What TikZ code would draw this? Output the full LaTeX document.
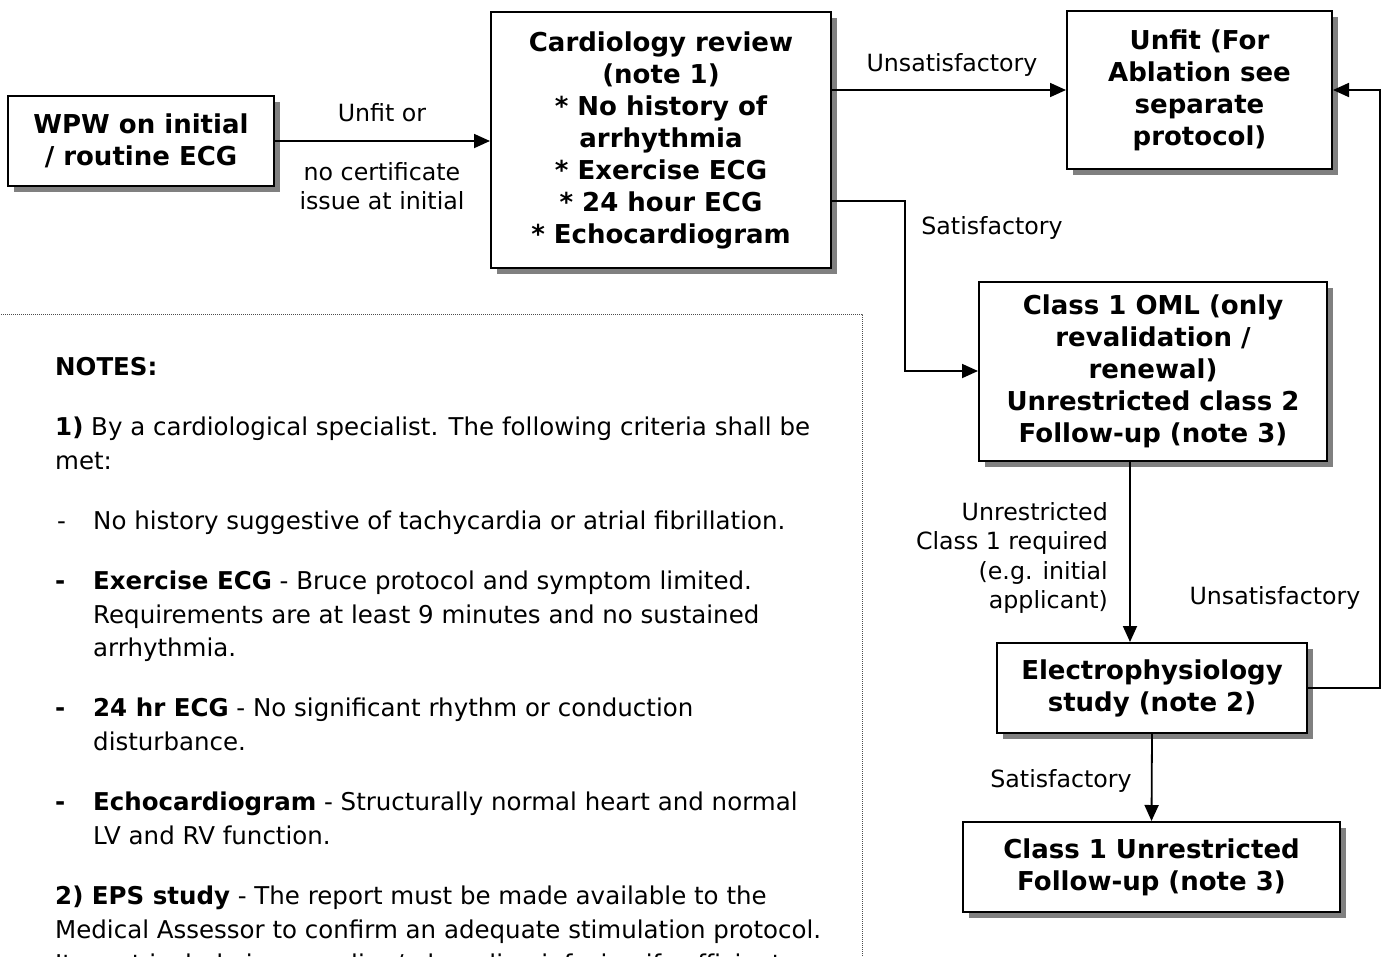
\documentclass[tikz,border=0pt]{standalone}
\usepackage{fontspec}
\setmainfont{DejaVu Sans}
\usetikzlibrary{arrows.meta,shadows}

\tikzset{
  box/.style={draw=black, line width=2pt, fill=white, inner sep=0pt, align=center,
    font=\fontsize{26}{32}\selectfont\bfseries,
    drop shadow={shadow xshift=6pt, shadow yshift=-6pt, fill=black!50, opacity=1}},
  conn/.style={line width=1.8pt, -{Triangle[length=16pt,width=14pt]}},
  lbl/.style={inner sep=0pt, align=center, font=\fontsize{23.7}{29.5}\selectfont},
  note/.style={inner sep=0pt, anchor=mid west, font=\fontsize{24.5}{34}\selectfont},
}

\begin{document}
\begin{tikzpicture}[x=1pt, y=-1pt]
\clip (0,0) rectangle (1386,956);
\fill[white] (0,0) rectangle (1386,956);

% flow chart boxes
\node[box, minimum width=266pt, minimum height=90pt] (wpw) at (141,141)
  {WPW on initial\\/ routine ECG};
\node[box, minimum width=340pt, minimum height=256pt] (cardio) at (661,140)
  {Cardiology review\\(note 1)\\* No history of\\arrhythmia\\* Exercise ECG\\* 24 hour ECG\\* Echocardiogram};
\node[box, minimum width=265pt, minimum height=158pt] (unfit) at (1199.5,90)
  {Unfit (For\\Ablation see\\separate\\protocol)};
\node[box, minimum width=348pt, minimum height=179pt] (oml) at (1153,371)
  {Class 1 OML (only\\revalidation /\\renewal)\\Unrestricted class 2\\Follow-up (note 3)};
\node[box, minimum width=310pt, minimum height=90pt] (ep) at (1152,688)
  {Electrophysiology\\study (note 2)};
\node[box, minimum width=377pt, minimum height=90pt] (c1u) at (1151.5,867)
  {Class 1 Unrestricted\\Follow-up (note 3)};

% bend points of the connectors
\coordinate (satbend) at (905,201);
\coordinate (downx) at (1130,0);
\coordinate (rightx) at (1380,0);

% connectors
\draw[conn] (wpw.east) -- (wpw.east -| cardio.west);
\draw[conn] (cardio.east |- unfit.west) -- (unfit.west);
\draw[conn] (cardio.east |- satbend) -- (satbend) |- (oml.west);
\draw[conn] (oml.south -| downx) -- (ep.north -| downx);
\draw[conn] (ep.east) -- (ep.east -| rightx) |- (unfit.east);
\draw[conn] (ep.south) -- (c1u.north);

% connector labels
\node[lbl] (l1) at (382,113) {Unfit or};
\node[lbl] (l2) at (382,186) {no certificate\\issue at initial};
\node[lbl] (l3) at (952,65) {Unsatisfactory};
\node[lbl] (l4) at (992,228) {Satisfactory};
\node[lbl, align=right, anchor=east] (l5) at (1108,558)
  {Unrestricted\\Class 1 required\\(e.g. initial\\applicant)};
\node[lbl] (l6) at (1275,598) {Unsatisfactory};
\node[lbl] (l7) at (1061,781) {Satisfactory};

% notes panel
\draw[line width=1pt, black!70, dash pattern=on 1pt off 1pt]
  (-5,314) -- (862,314) -- (862,1000);

\node[note] (n0) at (55,373) {\bfseries NOTES:};
\node[note] (n1) at (55,433) {\textbf{1)} By a cardiological specialist. The following criteria shall be};
\node[note] (n2) at (55,467) {met:};
\node[note] (n3) at (57,527) {\makebox[36pt][l]{-}No history suggestive of tachycardia or atrial fibrillation.};
\node[note] (n4) at (55,587) {\makebox[38pt][l]{\bfseries -}\textbf{Exercise ECG} - Bruce protocol and symptom limited.};
\node[note] (n5) at (93,621) {Requirements are at least 9 minutes and no sustained};
\node[note] (n6) at (93,654) {arrhythmia.};
\node[note] (n7) at (55,714) {\makebox[38pt][l]{\bfseries -}\textbf{24 hr ECG} - No significant rhythm or conduction};
\node[note] (n8) at (93,748) {disturbance.};
\node[note] (n9) at (55,808) {\makebox[38pt][l]{\bfseries -}\textbf{Echocardiogram} - Structurally normal heart and normal};
\node[note] (n10) at (93,842) {LV and RV function.};
\node[note] (n11) at (55,902) {\textbf{2) EPS study} - The report must be made available to the};
\node[note] (n12) at (55,936) {Medical Assessor to confirm an adequate stimulation protocol.};
\node[note] (n13) at (55,970) {It must include isoprenaline/adrenaline infusion if sufficient};
\end{tikzpicture}
\end{document}
